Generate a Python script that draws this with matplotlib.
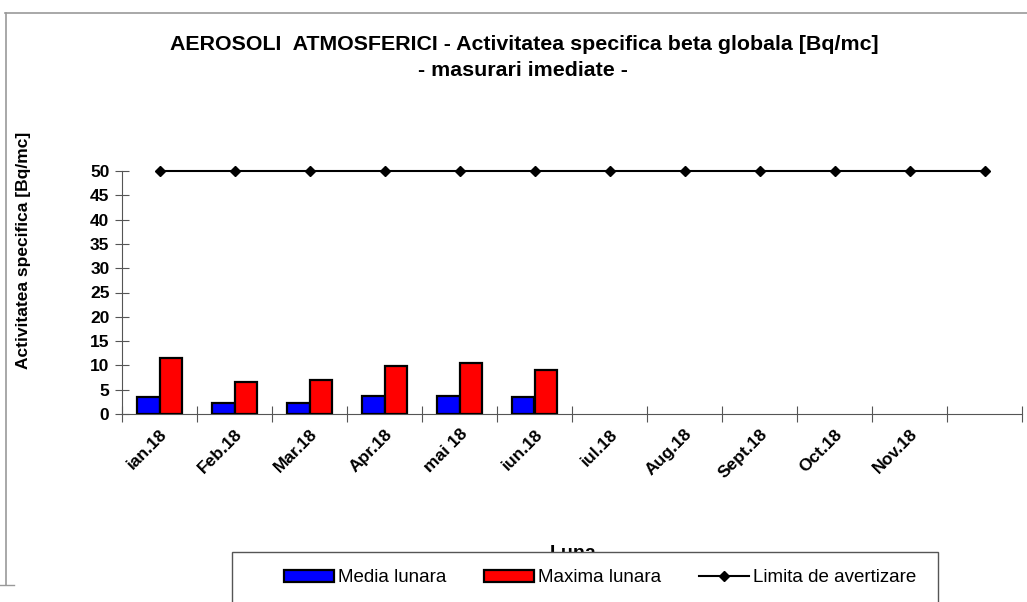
import numpy as np
import matplotlib.pyplot as plt
from matplotlib.lines import Line2D
from matplotlib.patches import Rectangle

luni = ["ian.18", "Feb.18", "Mar.18", "Apr.18", "mai 18", "iun.18",
        "iul.18", "Aug.18", "Sept.18", "Oct.18", "Nov.18", ""]
media_lunara = [3.5, 2.3, 2.3, 3.7, 3.7, 3.4]
maxima_lunara = [11.5, 6.6, 7.0, 9.9, 10.4, 9.0]
limita = [50] * 12

fonts = ["Liberation Sans", "DejaVu Sans"]
plt.rcParams["font.family"] = fonts

W, H = 1027, 602
fig = plt.figure(figsize=(W / 100, H / 100), dpi=100)
ax = fig.add_axes([122 / W, 1 - 414 / H, 900 / W, 243 / H])

x = np.arange(len(luni))
w = 0.3
n = len(media_lunara)
b1 = ax.bar(x[:n] - w / 2, media_lunara, w, color="#0000ff", edgecolor="black",
            linewidth=1.6, label="Media lunara", zorder=3)
b2 = ax.bar(x[:n] + w / 2, maxima_lunara, w, color="#ff0000", edgecolor="black",
            linewidth=1.6, label="Maxima lunara", zorder=3)
ln, = ax.plot(x, limita, color="black", marker="D", markersize=5.5, linewidth=1.5,
              label="Limita de avertizare", clip_on=False, zorder=4)

ax.set_xlim(-0.5, len(luni) - 0.5)
ax.set_ylim(0, 50)
ax.set_yticks(range(0, 51, 5))
# ticks between months, labels centred under each month
ax.set_xticks(np.arange(len(luni) + 1) - 0.5)
ax.set_xticklabels([])
ax.set_xticks(x, minor=True)
ax.set_xticklabels(luni, minor=True, rotation=45, ha="right", va="top",
                   rotation_mode="anchor", fontsize=12.5, fontweight="bold")
ax.tick_params(axis="x", which="minor", length=0, pad=9)
ax.tick_params(axis="x", which="major", direction="inout", length=12,
               color="#555555")
ax.tick_params(axis="y", direction="inout", length=10, color="#555555",
               labelsize=12.5, pad=4)
for lab in ax.get_yticklabels():
    lab.set_fontweight("bold")

for s in ["top", "right"]:
    ax.spines[s].set_visible(False)
ax.spines["left"].set_color("#555555")
ax.spines["bottom"].set_color("#555555")

ax.set_ylabel("Activitatea specifica [Bq/mc]", fontsize=12.5, fontweight="bold")
ax.yaxis.set_label_coords(-91 / 900, (414 - 250) / 243)

fig.text(524 / W, 1 - 45 / H,
         "AEROSOLI  ATMOSFERICI - Activitatea specifica beta globala [Bq/mc]",
         ha="center", va="center", fontsize=15.4, fontweight="bold")
fig.text(523 / W, 1 - 71 / H, "- masurari imediate -",
         ha="center", va="center", fontsize=15.4, fontweight="bold")
fig.text(573 / W, 1 - 553 / H, "Luna", ha="center", va="center",
         fontsize=14, fontweight="bold", zorder=1)

# legend box (runs past the bottom edge)
fig.add_artist(Rectangle((232 / W, -0.05), 706 / W, 0.05 + (H - 552) / H,
                         facecolor="white", edgecolor="#555555", lw=1.0,
                         zorder=5))
leg = fig.legend([b1, b2, ln], ["Media lunara", "Maxima lunara", "Limita de avertizare"],
                 loc="center", bbox_to_anchor=(600 / W, 1 - 578 / H),
                 ncol=3, frameon=False, prop={"size": 13.5},
                 handlelength=2.7, handleheight=0.65, handletextpad=0.2,
                 columnspacing=2.0, borderaxespad=0, borderpad=0)
leg.set_zorder(6)

# outer chart-area border
fig.add_artist(Line2D([5 / W, 1], [1 - 13 / H] * 2, color="#999999", lw=1.2))
fig.add_artist(Line2D([6 / W] * 2, [1 - 13 / H, 1 - 585 / H],
                      color="#999999", lw=1.2))
fig.add_artist(Line2D([0, 14 / W], [1 - 585 / H] * 2, color="#999999", lw=1.0))

fig.savefig("out.png", dpi=100)
